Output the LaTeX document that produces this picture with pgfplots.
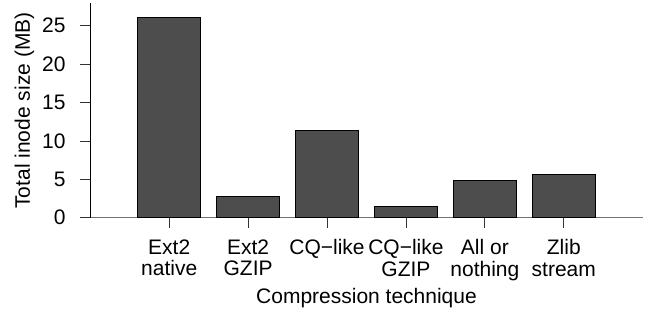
\documentclass[border=0pt]{standalone}
\usepackage{pgfplots}
\pgfplotsset{compat=1.18}
\usepackage{fontspec}
\setmainfont{Liberation Sans}
\definecolor{barfill}{HTML}{4D4D4D}
\begin{document}
\fontsize{21}{21.4}\selectfont
\begin{tikzpicture}
\path[use as bounding box] (0,0) rectangle (646pt,315pt);
\begin{axis}[
  at={(90.3pt,97.3pt)}, anchor=south west,
  scale only axis, width=552.4pt, height=214.4pt,
  xmin=-1, xmax=6, ymin=0, ymax=27.92,
  axis lines*=left,
  x axis line style={draw=black!55},
  y axis line style={draw=black},
  tick align=outside,
  major tick length=10.5pt,
  tick style={draw=black!80, line width=0.8pt},
  xtick={0,1,2,3,4,5},
  xticklabels={Ext2\\native, Ext2\\GZIP, CQ−like, CQ−like\\GZIP, All or\\nothing, Zlib\\stream},
  xticklabel style={align=center, anchor=north, yshift=-4pt, font=\fontsize{21}{21.4}\selectfont},
  ytick={0,5,10,15,20,25},
  yticklabel style={anchor=east, xshift=-7pt, font=\fontsize{21}{21.4}\selectfont},
  /pgf/number format/assume math mode=true,
  xlabel={Compression technique},
  xlabel style={at={(axis description cs:0.5,0)}, anchor=base, yshift=-85.6pt, font=\fontsize{21}{21.4}\selectfont},
  ylabel={Total inode size (MB)},
  ylabel style={at={(axis description cs:-0.1095,0.5)}, rotate=0, anchor=base, font=\fontsize{21}{21.4}\selectfont},
  clip=false,
]
\addplot[ybar, bar width=0.8, fill=barfill, draw=black, line width=0.8pt] coordinates {
  (0,26.07) (1,2.79) (2,11.38) (3,1.52) (4,4.87) (5,5.69)
};
\end{axis}
\end{tikzpicture}
\end{document}
